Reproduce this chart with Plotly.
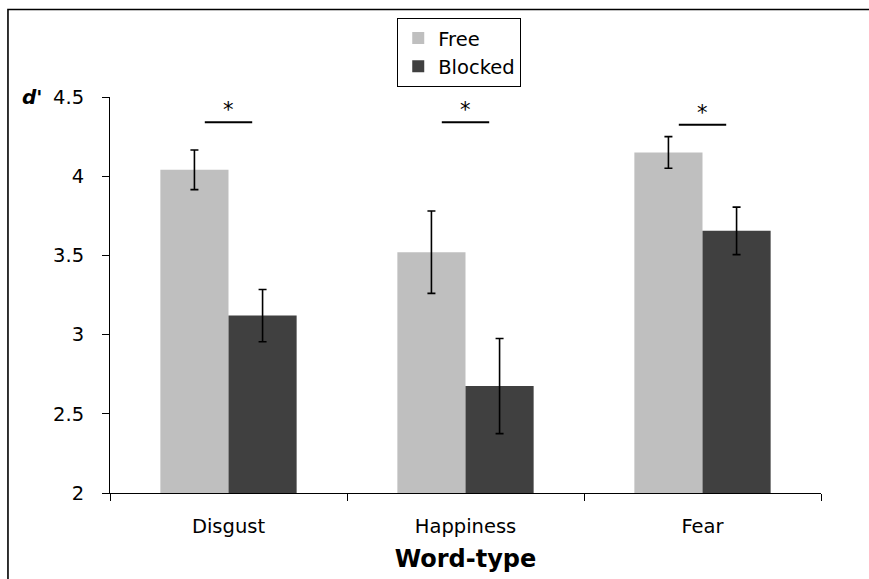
import plotly.graph_objects as go

# Word-type categories and d' means with standard errors
categories = ["Disgust", "Happiness", "Fear"]
free_means = [4.04, 3.52, 4.15]
free_err = [0.125, 0.26, 0.10]
blocked_means = [3.12, 2.675, 3.655]
blocked_err = [0.165, 0.30, 0.15]
sig_line_y = [4.34, 4.34, 4.325]
y_ticks = [2, 2.5, 3, 3.5, 4, 4.5]
y_tick_text = ["2", "2.5", "3", "3.5", "4", "4.5"]

FONT = "DejaVu Sans"
TICK_SIZE = 19.5
err_style = dict(type="data", thickness=1.6, width=4, color="black")

fig = go.Figure()
fig.add_trace(go.Bar(
    name="Free", x=categories, y=free_means,
    error_y=dict(array=free_err, **err_style),
    marker=dict(color="#BFBFBF", line=dict(width=0)),
))
fig.add_trace(go.Bar(
    name="Blocked", x=categories, y=blocked_means,
    error_y=dict(array=blocked_err, **err_style),
    marker=dict(color="#404040", line=dict(width=0)),
))

# significance bars with asterisks above each pair
shapes = []
annotations = []
for i, yv in enumerate(sig_line_y):
    shapes.append(dict(type="line", xref="x", yref="y",
                       x0=i - 0.1, x1=i + 0.1, y0=yv, y1=yv,
                       line=dict(color="black", width=2)))
    annotations.append(dict(x=i, y=yv + 0.075, xref="x", yref="y",
                            text="*", showarrow=False,
                            font=dict(size=21, color="black", family=FONT)))

# outer frame around the figure
shapes.append(dict(type="rect", xref="paper", yref="paper",
                   x0=-0.1435, x1=1.2, y0=-0.4, y1=1.221,
                   line=dict(color="black", width=1.6),
                   fillcolor="rgba(0,0,0,0)", layer="below"))

annotations.append(dict(x=-0.11, y=1.0, xref="paper", yref="paper",
                        text="<b><i>d'</i></b>", showarrow=False,
                        xanchor="center", yanchor="middle",
                        font=dict(size=20, color="black", family=FONT)))

fig.update_layout(
    width=869, height=579,
    margin=dict(l=110, r=48, t=97, b=84),
    paper_bgcolor="white", plot_bgcolor="white",
    font=dict(family=FONT, color="black", size=TICK_SIZE),
    barmode="group", bargap=0.425, bargroupgap=0,
    showlegend=True,
    legend=dict(x=0.404, y=1.2, xanchor="left", yanchor="top",
                bordercolor="black", borderwidth=1, bgcolor="white",
                font=dict(size=TICK_SIZE, family=FONT),
                itemsizing="constant", tracegroupgap=0),
    shapes=shapes, annotations=annotations,
)
fig.update_yaxes(range=[2, 4.5], tickvals=y_ticks, ticktext=y_tick_text,
                 ticks="outside", ticklen=7, tickcolor="black", tickwidth=1,
                 showline=True, linecolor="black", linewidth=1,
                 showgrid=False, zeroline=False, ticklabelstandoff=14,
                 tickfont=dict(size=TICK_SIZE, family=FONT))
fig.update_xaxes(ticks="outside", tickson="boundaries", ticklen=7,
                 tickcolor="black", tickwidth=1,
                 showline=True, linecolor="black", linewidth=1,
                 showgrid=False, ticklabelstandoff=16,
                 tickfont=dict(size=TICK_SIZE, family=FONT),
                 title=dict(text="<b>Word-type</b>", standoff=12,
                            font=dict(size=24, family=FONT)))

fig.write_html("out.html")
